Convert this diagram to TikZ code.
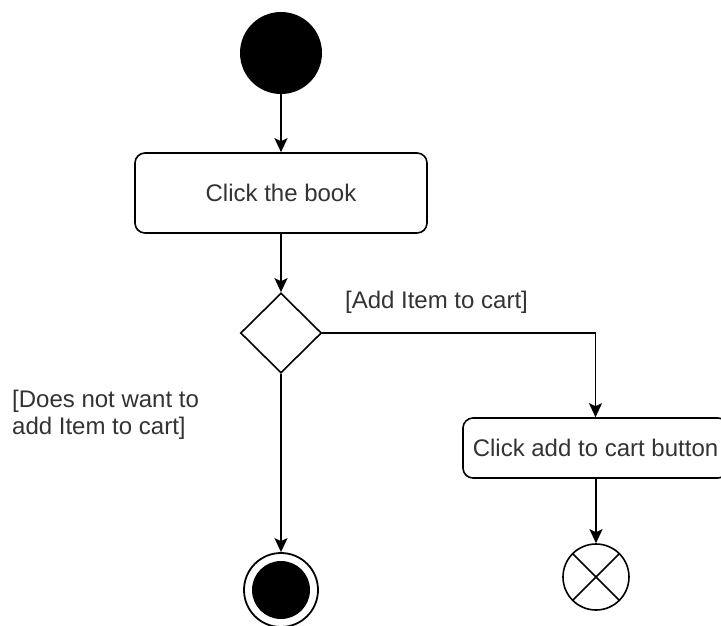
\documentclass[tikz,border=0pt]{standalone}
\usepackage{fontspec}
\setmainfont{Liberation Sans}
\usetikzlibrary{shapes.geometric,arrows.meta}

\definecolor{labelgray}{HTML}{333333}

\tikzset{
  flow/.style={line width=1.6pt,-{Stealth[length=14pt,width=13pt,inset=3pt]}},
  initstate/.style={circle,fill=black,minimum size=82pt,inner sep=0},
  activity/.style={rectangle,rounded corners=10pt,draw,line width=1.6pt,inner sep=0,
    text=labelgray,font=\fontsize{24}{27}\selectfont},
  decision/.style={diamond,draw,line width=1.6pt,minimum width=81pt,minimum height=80pt,inner sep=0},
  guard/.style={text=labelgray,font=\fontsize{24}{27}\selectfont,inner sep=0},
  endstate/.style={circle,draw,line width=1.8pt,minimum size=74pt,inner sep=0,
    path picture={\fill[black] (path picture bounding box.center) circle (29pt);}},
  flowend/.style={circle,draw,line width=1.6pt,minimum size=66pt,inner sep=0,
    path picture={
      \draw[line width=1.6pt] (path picture bounding box.north west) -- (path picture bounding box.south east);
      \draw[line width=1.6pt] (path picture bounding box.south west) -- (path picture bounding box.north east);}}
}

\begin{document}
\begin{tikzpicture}[x=1pt,y=-1pt]
  \useasboundingbox (0,0) rectangle (721,625);
  \node[initstate] (start) at (281,53) {};
  \node[activity,minimum width=292pt,minimum height=80pt] (book) at (281,193) {Click the book};
  \node[decision] (choice) at (281,333) {};
  \node[activity,minimum width=265pt,minimum height=60pt] (cart) at (595.5,448) {Click add to cart button};
  \node[endstate] (final) at (281,590) {};
  \node[flowend] (stop) at (596,577) {};
  % guards
  \node[guard] (addguard) at (436.5,302) {[Add Item to cart]};
  \node[guard,anchor=west,align=left] (noguard) at (12,415) {[Does not want to\\add Item to cart]};
  % transitions
  \draw[flow] (start) -- (book);
  \draw[flow] (book) -- (choice);
  \draw[flow] (choice.east) -| (cart.north);
  \draw[flow] (choice) -- (final);
  \draw[flow] (cart.south -| stop) -- (stop);
\end{tikzpicture}
\end{document}
